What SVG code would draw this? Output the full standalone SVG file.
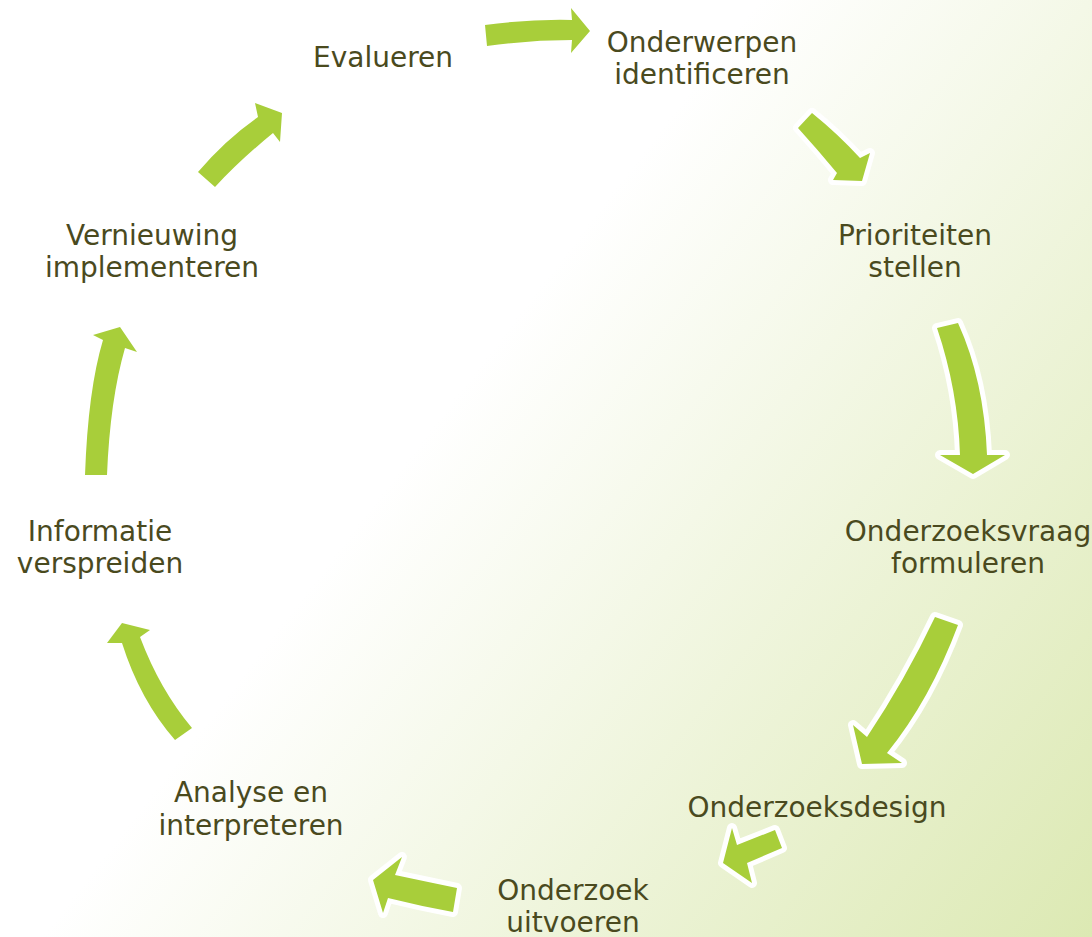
<svg xmlns="http://www.w3.org/2000/svg" width="1092" height="937" viewBox="0 0 1092 937">
<defs>
<linearGradient id="bg" gradientUnits="userSpaceOnUse" x1="430" y1="430" x2="1092" y2="937">
<stop offset="0" stop-color="#ffffff"/>
<stop offset="1" stop-color="#dce9b3"/>
</linearGradient>
<style>
.arr{fill:#a8ce3a;stroke:#ffffff;stroke-width:10;stroke-linejoin:round;paint-order:stroke}
.lbl{font-family:"DejaVu Sans","Liberation Sans",sans-serif;font-size:28px;fill:#4a4a1e;text-anchor:middle}
</style>
</defs>
<rect x="0" y="0" width="1092" height="937" fill="url(#bg)"/>
<g id="connectors">
<path class="arr" d="M485,25 Q530,19 572,20 L571,8 L590,31 L571,53 L572,40 Q530,40 487,46 Z"/>
<path class="arr" d="M812,113 Q838,134 860,158 L870,153 L862,181 L833,180 L837,173 Q818,150 798,128 Z"/>
<path class="arr" d="M937,328 L958,323 Q984,380 987,455 L1005,455 L973,474 L940,455 L960,455 Q958,390 937,328 Z"/>
<path class="arr" d="M935,617 L958,625 Q930,700 887,753 L902,763 L862,764 L853,725 L867,737 Q905,680 935,617 Z"/>
<path class="arr" d="M775,830 L782,848 L747,863 L752,883 L723,863 L732,828 L737,845 Z"/>
<path class="arr" d="M457,888 L453,912 Q420,906 388,898 L383,913 L373,880 L402,857 L395,875 Q428,882 457,888 Z"/>
<path class="arr" d="M192,728 L175,740 Q140,700 122,643 L107,643 L122,623 L150,630 L140,637 Q160,690 192,728 Z"/>
<path class="arr" d="M85,475 Q88,390 103,340 L93,335 L120,327 L137,352 L125,348 Q110,400 107,475 Z"/>
<path class="arr" d="M198,172 Q225,140 258,117 L255,103 L282,113 L280,142 L273,133 Q240,160 215,187 Z"/>
</g>
<g id="n-evalueren"><text class="lbl" x="383" y="67">Evalueren</text></g>
<g id="n-onderwerpen"><text class="lbl" x="702" y="52">Onderwerpen</text><text class="lbl" x="702" y="84">identificeren</text></g>
<g id="n-prioriteiten"><text class="lbl" x="915" y="245">Prioriteiten</text><text class="lbl" x="915" y="277">stellen</text></g>
<g id="n-vraag"><text class="lbl" x="968" y="541">Onderzoeksvraag</text><text class="lbl" x="968" y="573">formuleren</text></g>
<g id="n-design"><text class="lbl" x="817" y="817">Onderzoeksdesign</text></g>
<g id="n-uitvoeren"><text class="lbl" x="573" y="900">Onderzoek</text><text class="lbl" x="573" y="932">uitvoeren</text></g>
<g id="n-analyse"><text class="lbl" x="251" y="802">Analyse en</text><text class="lbl" x="251" y="835">interpreteren</text></g>
<g id="n-informatie"><text class="lbl" x="100" y="541">Informatie</text><text class="lbl" x="100" y="573">verspreiden</text></g>
<g id="n-vernieuwing"><text class="lbl" x="152" y="245">Vernieuwing</text><text class="lbl" x="152" y="277">implementeren</text></g>
</svg>
